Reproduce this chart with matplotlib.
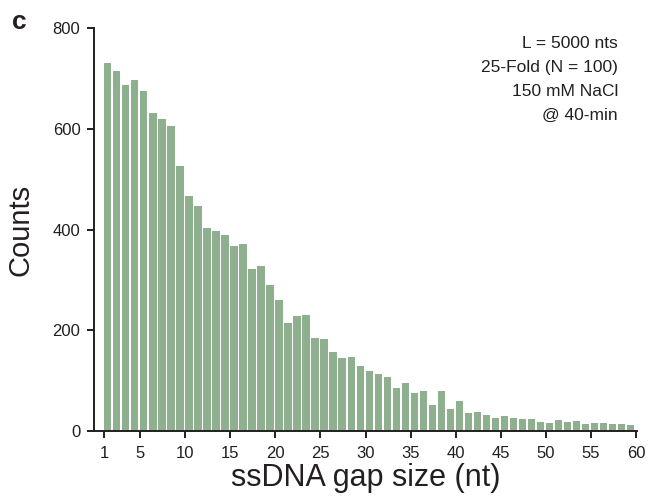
import matplotlib
matplotlib.use("Agg")
import matplotlib.pyplot as plt

gap_sizes = list(range(1, 60))
counts = [732, 716, 687, 698, 675, 631, 619, 605, 526, 467,
          446, 403, 397, 390, 368, 371, 322, 327, 291, 260,
          215, 229, 230, 185, 182, 156, 145, 147, 130, 120,
          114, 107, 85, 95, 76, 79, 51, 79, 44, 59,
          36, 38, 32, 25, 30, 25, 23, 23, 17, 15,
          22, 17, 20, 14, 16, 16, 13, 13, 11]
xticks = [1, 5, 10, 15, 20, 25, 30, 35, 40, 45, 50, 55, 60]
yticks = [0, 200, 400, 600, 800]
info_lines = ["L = 5000 nts", "25-Fold (N = 100)", "150 mM NaCl", "@ 40-min"]

plt.rcParams['font.family'] = ['Liberation Sans', 'DejaVu Sans']
dark = '#231f20'

fig = plt.figure(figsize=(6.48, 5.0), dpi=100)
ax = fig.add_axes([0.1455, 0.138, 0.8375, 0.8054])

ax.bar(gap_sizes, counts, width=0.82, align='edge', color='#8fb08f',
       edgecolor='none')

ax.set_xlim(-0.08, 60.1)
ax.set_ylim(0, 800)
ax.set_xticks(xticks)
ax.set_yticks(yticks)
for s in ['top', 'right']:
    ax.spines[s].set_visible(False)
for s in ['left', 'bottom']:
    ax.spines[s].set_color(dark)
    ax.spines[s].set_linewidth(1.4)
ax.tick_params(axis='both', colors=dark, width=1.4, length=5,
               labelsize=12, labelcolor=dark)
ax.tick_params(axis='x', pad=6)
ax.tick_params(axis='y', pad=5)

ax.set_ylabel('Counts', fontsize=21, color=dark, labelpad=13)
ax.set_xlabel('ssDNA gap size (nt)', fontsize=22, color=dark, labelpad=1)

y0 = 0.982
for i, line in enumerate(info_lines):
    ax.text(0.965, y0 - i * 0.0596, line, transform=ax.transAxes,
            ha='right', va='top', fontsize=12.5, color=dark)

fig.text(0.018, 0.98, 'c', fontsize=19, fontweight='bold', color=dark,
         ha='left', va='top')

fig.savefig('out.png', dpi=100)
